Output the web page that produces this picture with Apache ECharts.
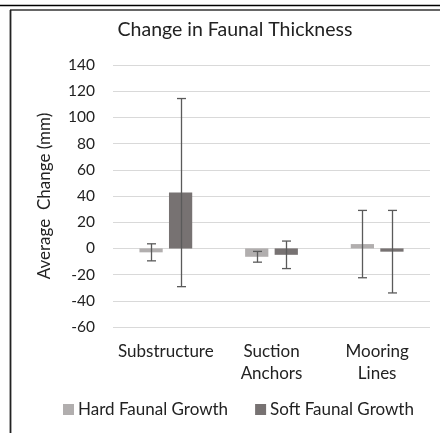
<!DOCTYPE html>
<html><head><meta charset="utf-8">
<script src="https://cdn.jsdelivr.net/npm/echarts@6/dist/echarts.min.js"></script>
<style>html,body{margin:0;padding:0;background:#fff}#c{width:440px;height:433px}</style>
</head><body><div id="c"></div>
<script>
const categories = ['Substructure', 'Suction\nAnchors', 'Mooring\nLines'];
const hardValues = [-3, -6.4, 3.3];
const hardErrors = [6.5, 4.1, 25.7];
const softValues = [42.6, -4.9, -2.5];
const softErrors = [71.8, 10.5, 31.5];
const yTicks = [-60, -40, -20, 0, 20, 40, 60, 80, 100, 120, 140];

const FONT = 'Lato, "Open Sans", sans-serif';
const chart = echarts.init(document.getElementById('c'));

function errSeries(name, vals, errs, seriesIndexOffset) {
  return {
    type: 'custom',
    name: name + ' err',
    z: 10,
    renderItem: function (params, api) {
      const idx = api.value(0);
      const mean = api.value(1);
      const e = api.value(2);
      const top = api.coord([idx, mean + e]);
      const bot = api.coord([idx, mean - e]);
      const band = api.size([1, 0])[0];
      const barW = band * 0.22;
      const gap = barW * 0.27;
      const off = (barW + gap) / 2 * seriesIndexOffset;
      const x = Math.round(top[0] + off) + 0.5;
      const cap = 4.5;
      const style = { stroke: '#5a5a5a', lineWidth: 1.3, fill: null };
      return {
        type: 'group',
        children: [
          { type: 'line', shape: { x1: x, y1: top[1], x2: x, y2: bot[1] }, style: style },
          { type: 'line', shape: { x1: x - cap, y1: top[1], x2: x + cap, y2: top[1] }, style: style },
          { type: 'line', shape: { x1: x - cap, y1: bot[1], x2: x + cap, y2: bot[1] }, style: style }
        ]
      };
    },
    data: vals.map((v, i) => [i, v, errs[i]]),
    tooltip: { show: false }
  };
}

chart.setOption({
  animation: false,
  title: {
    text: 'Change in Faunal Thickness',
    left: 230, top: 15, textAlign: 'center',
    textStyle: { fontFamily: FONT, fontSize: 19.5, fontWeight: 'normal', color: '#222' }
  },
  legend: {
    bottom: 10, left: 58,
    itemWidth: 11, itemHeight: 11, itemGap: 27,
    icon: 'rect',
    textStyle: { fontFamily: FONT, fontSize: 17, color: '#222', padding: [0, 0, 0, -1] },
    data: ['Hard Faunal Growth', 'Soft Faunal Growth']
  },
  grid: { left: 113, right: 10, top: 65, bottom: 106 },
  xAxis: {
    type: 'category',
    data: categories,
    axisLine: { show: false },
    axisTick: { show: false },
    axisLabel: { fontFamily: FONT, fontSize: 17, color: '#222', margin: 14, lineHeight: 22, interval: 0 }
  },
  yAxis: {
    type: 'value',
    min: -60, max: 140, interval: 20,
    name: 'Average  Change (mm)',
    nameLocation: 'middle', nameGap: 60, nameRotate: 90,
    nameTextStyle: { fontFamily: FONT, fontSize: 17, color: '#222' },
    axisLine: { show: false },
    axisTick: { show: false },
    axisLabel: { fontFamily: FONT, fontSize: 15.5, color: '#222', margin: 18,
      formatter: v => yTicks.includes(v) ? String(v) : '' },
    splitLine: { lineStyle: { color: '#d9d9d9', width: 1 } }
  },
  series: [
    { type: 'bar', name: 'Hard Faunal Growth', data: hardValues, barWidth: '22%', barGap: '27%',
      itemStyle: { color: '#b1aeae' } },
    { type: 'bar', name: 'Soft Faunal Growth', data: softValues, barWidth: '22%', barGap: '27%',
      itemStyle: { color: '#777272' } },
    errSeries('hard', hardValues, hardErrors, -1),
    errSeries('soft', softValues, softErrors, 1)
  ],
  graphic: [
    { type: 'line', shape: { x1: 0, y1: 5.5, x2: 440, y2: 5.5 }, style: { stroke: '#000', lineWidth: 1.5 } },
    { type: 'line', shape: { x1: 10, y1: 10, x2: 440, y2: 10 }, style: { stroke: '#333', lineWidth: 1.5 } },
    { type: 'line', shape: { x1: 10.5, y1: 10, x2: 10.5, y2: 433 }, style: { stroke: '#222', lineWidth: 1.8 } }
  ]
});
</script></body></html>
